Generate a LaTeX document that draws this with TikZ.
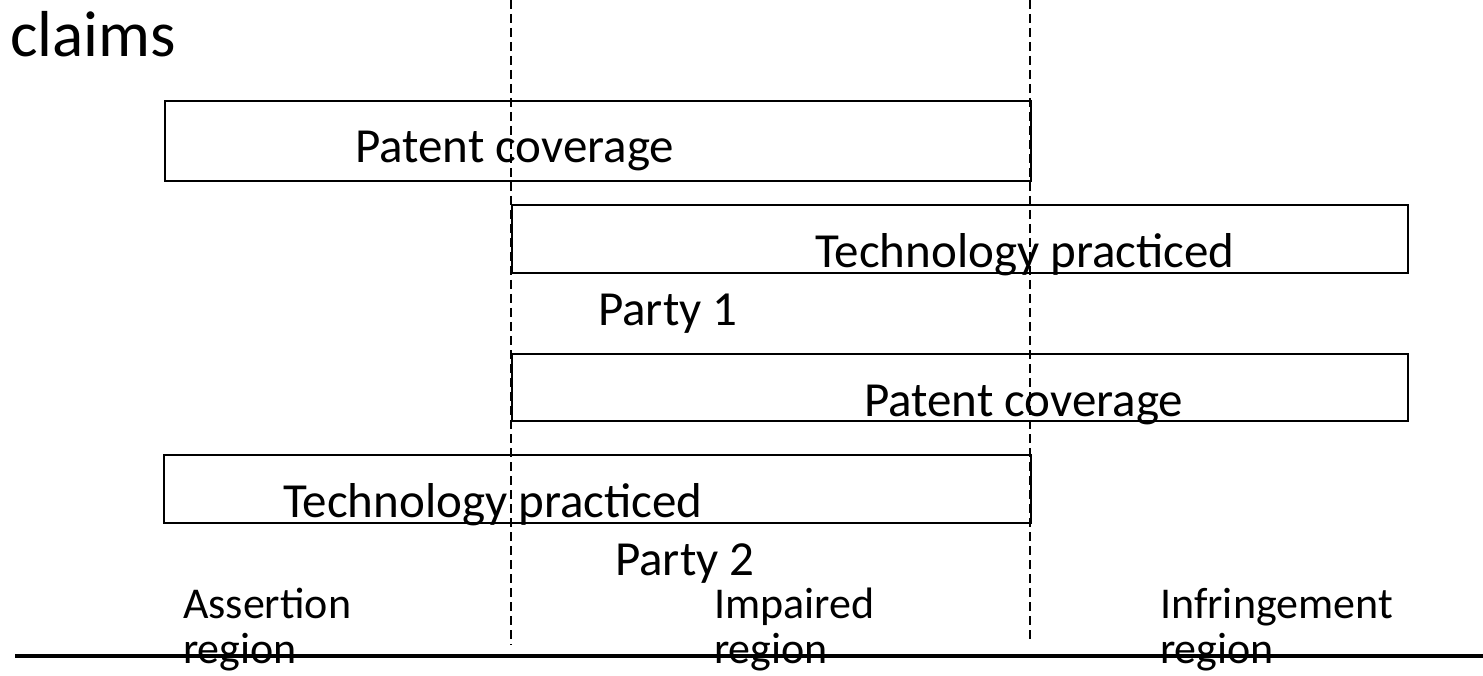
\documentclass[tikz,border=0pt]{standalone}
\usepackage{fontspec}
\setmainfont{Carlito}
\usetikzlibrary{positioning}

\begin{document}
\begin{tikzpicture}[x=1pt,y=-1pt,
                    bar/.style={draw,line width=1.8pt,inner sep=0pt,anchor=north west},
                    word/.style={inner sep=0pt,anchor=base west,font=\fontsize{49}{56}\selectfont},
                    zone/.style={inner sep=0pt,anchor=base west,font=\fontsize{44}{42}\selectfont},
                    divider/.style={line width=1.5pt,dash pattern=on 9pt off 5pt}]

  \useasboundingbox (0,0) rectangle (1483,676);

  \node[inner sep=0pt,anchor=base west,font=\fontsize{65}{70}\selectfont] (claims) at (10,57) {claims};

  % bars
  \node[bar,minimum width=866pt,minimum height=80pt] (cover1) at (164,100) {};
  \node[bar,minimum width=896pt,minimum height=68pt] (tech1) at (511,204) {};
  \node[bar,minimum width=896pt,minimum height=67pt] (cover2) at (511,353) {};
  \node[bar,minimum width=867pt,minimum height=68pt] (tech2) at (163,454) {};

  % dividers
  \coordinate (cut1 top) at (511,0);
  \coordinate (cut1 bot) at (511,645);
  \coordinate (cut2 top) at (1030,0);
  \coordinate (cut2 bot) at (1030,640);
  \draw[divider] (cut1 top) -- (cut1 bot);
  \draw[divider] (cut2 top) -- (cut2 bot);

  % labels
  \node[word] (cover1 text) at (355,163) {Patent coverage};
  \node[word] (tech1 text) at (815,268) {Technology practiced};
  \node[word] (party1) at (598,325) {Party 1};
  \node[word] (cover2 text) at (864,416) {Patent coverage};
  \node[word] (tech2 text) at (283,517) {Technology practiced};
  \node[word] (party2) at (615,575) {Party 2};

  \node[zone] (assert) at (183,618) {Assertion};
  \node[zone] (assert2) at (183,663) {region};
  \node[zone] (impair) at (714,618) {Impaired};
  \node[zone] (impair2) at (714,663) {region};
  \node[zone] (infr) at (1160,618) {Infringement};
  \node[zone] (infr2) at (1160,663) {region};

  % axis
  \coordinate (axis l) at (15,656);
  \coordinate (axis r) at (1483,656);
  \draw[line width=4pt] (axis l) -- (axis r);
\end{tikzpicture}
\end{document}
